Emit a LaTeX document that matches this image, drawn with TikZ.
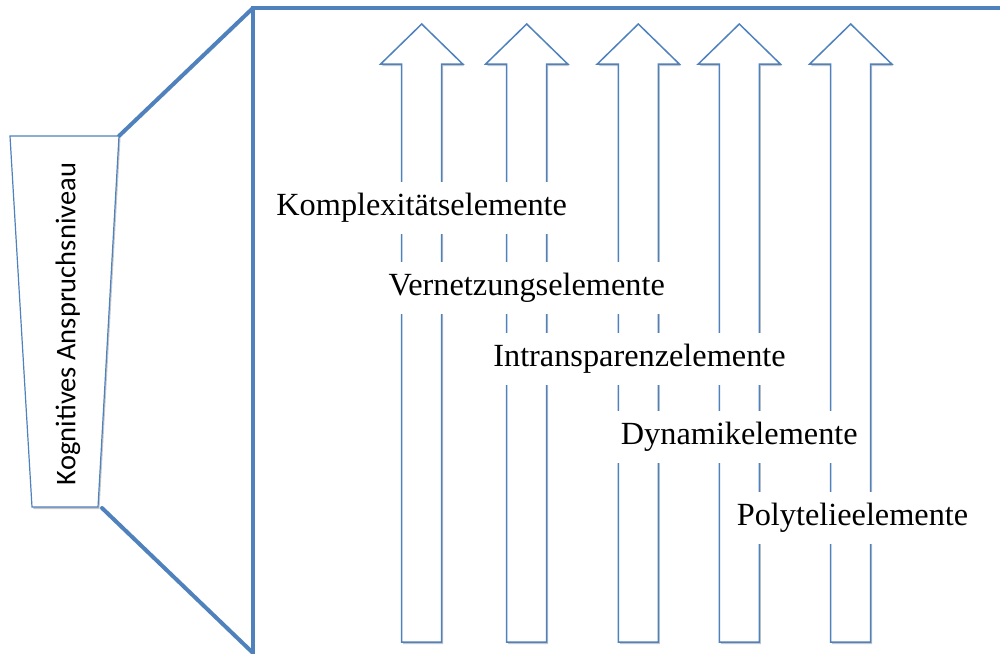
\documentclass[tikz,border=0pt]{standalone}
\usepackage{fontspec}
\setmainfont{Liberation Serif}
\newfontfamily\levelfont{Carlito}
\usetikzlibrary{shadows}
\definecolor{officeblue}{HTML}{4F81BD}

\tikzset{
  frameline/.style={draw=officeblue, line width=4pt},
  softshadow/.style={drop shadow={shadow xshift=1.5pt, shadow yshift=-2pt, opacity=0.22, fill=black}},
  uparrow/.style={draw=officeblue, line width=1.5pt, fill=white, softshadow},
  levelbox/.style={draw=officeblue, line width=1.2pt, fill=white, softshadow},
  elemlabel/.style={fill=white, inner xsep=10pt, inner ysep=0pt, minimum height=52pt,
    font=\fontsize{32.3}{37}\selectfont},
  levellabel/.style={rotate=90, font=\levelfont\fontsize{28.5}{33}\selectfont}
}

\begin{document}
\begin{tikzpicture}[x=1pt, y=-1pt]
  \useasboundingbox (0,0) rectangle (1000,653);

  % corners of the framed area and of the level trapezoid
  \coordinate (ftl) at (253,8);
  \coordinate (ftr) at (1000,8);
  \coordinate (fbl) at (253,653);
  \coordinate (ttl) at (10,136);
  \coordinate (ttr) at (119,136);
  \coordinate (tbr) at (98,507);
  \coordinate (tbl) at (32,507);
  \coordinate (tbrl) at (102,508);

  % frame and the two lines fanning out from the trapezoid
  \draw[frameline, line cap=round] (ftr) -- (ftl) -- (fbl);
  \draw[frameline, line cap=round] (ttr) -- (ftl);
  \draw[frameline, line cap=round] (tbrl) -- (fbl);

  % trapezoid with its vertical label
  \draw[levelbox] (ttl) -- (ttr) -- (tbr) -- (tbl) -- cycle;
  \node[levellabel] (level) at (68,324) {Kognitives Anspruchsniveau};

  % five block arrows pointing up
  \foreach \c/\n in {421.7/a1, 526.7/a2, 638.3/a3, 739.3/a4, 850.7/a5} {
    \draw[uparrow] (\c-20,642) -- (\c-20,64) -- (\c-41,64) -- (\c,24)
      -- (\c+41,64) -- (\c+20,64) -- (\c+20,642) -- cycle;
    \coordinate (\n) at (\c,642);
  }

  % element labels, each on a white band across the arrows
  \node[elemlabel] (komplex) at (421.7,208)   {Komplexitätselemente};
  \node[elemlabel] (vernetz) at (526.7,287.5) {Vernetzungselemente};
  \node[elemlabel] (intrans) at (639.5,359)   {Intransparenzelemente};
  \node[elemlabel] (dynamik) at (739.3,437)   {Dynamikelemente};
  \node[elemlabel] (polytel) at (852.5,518)   {Polytelieelemente};
\end{tikzpicture}
\end{document}
